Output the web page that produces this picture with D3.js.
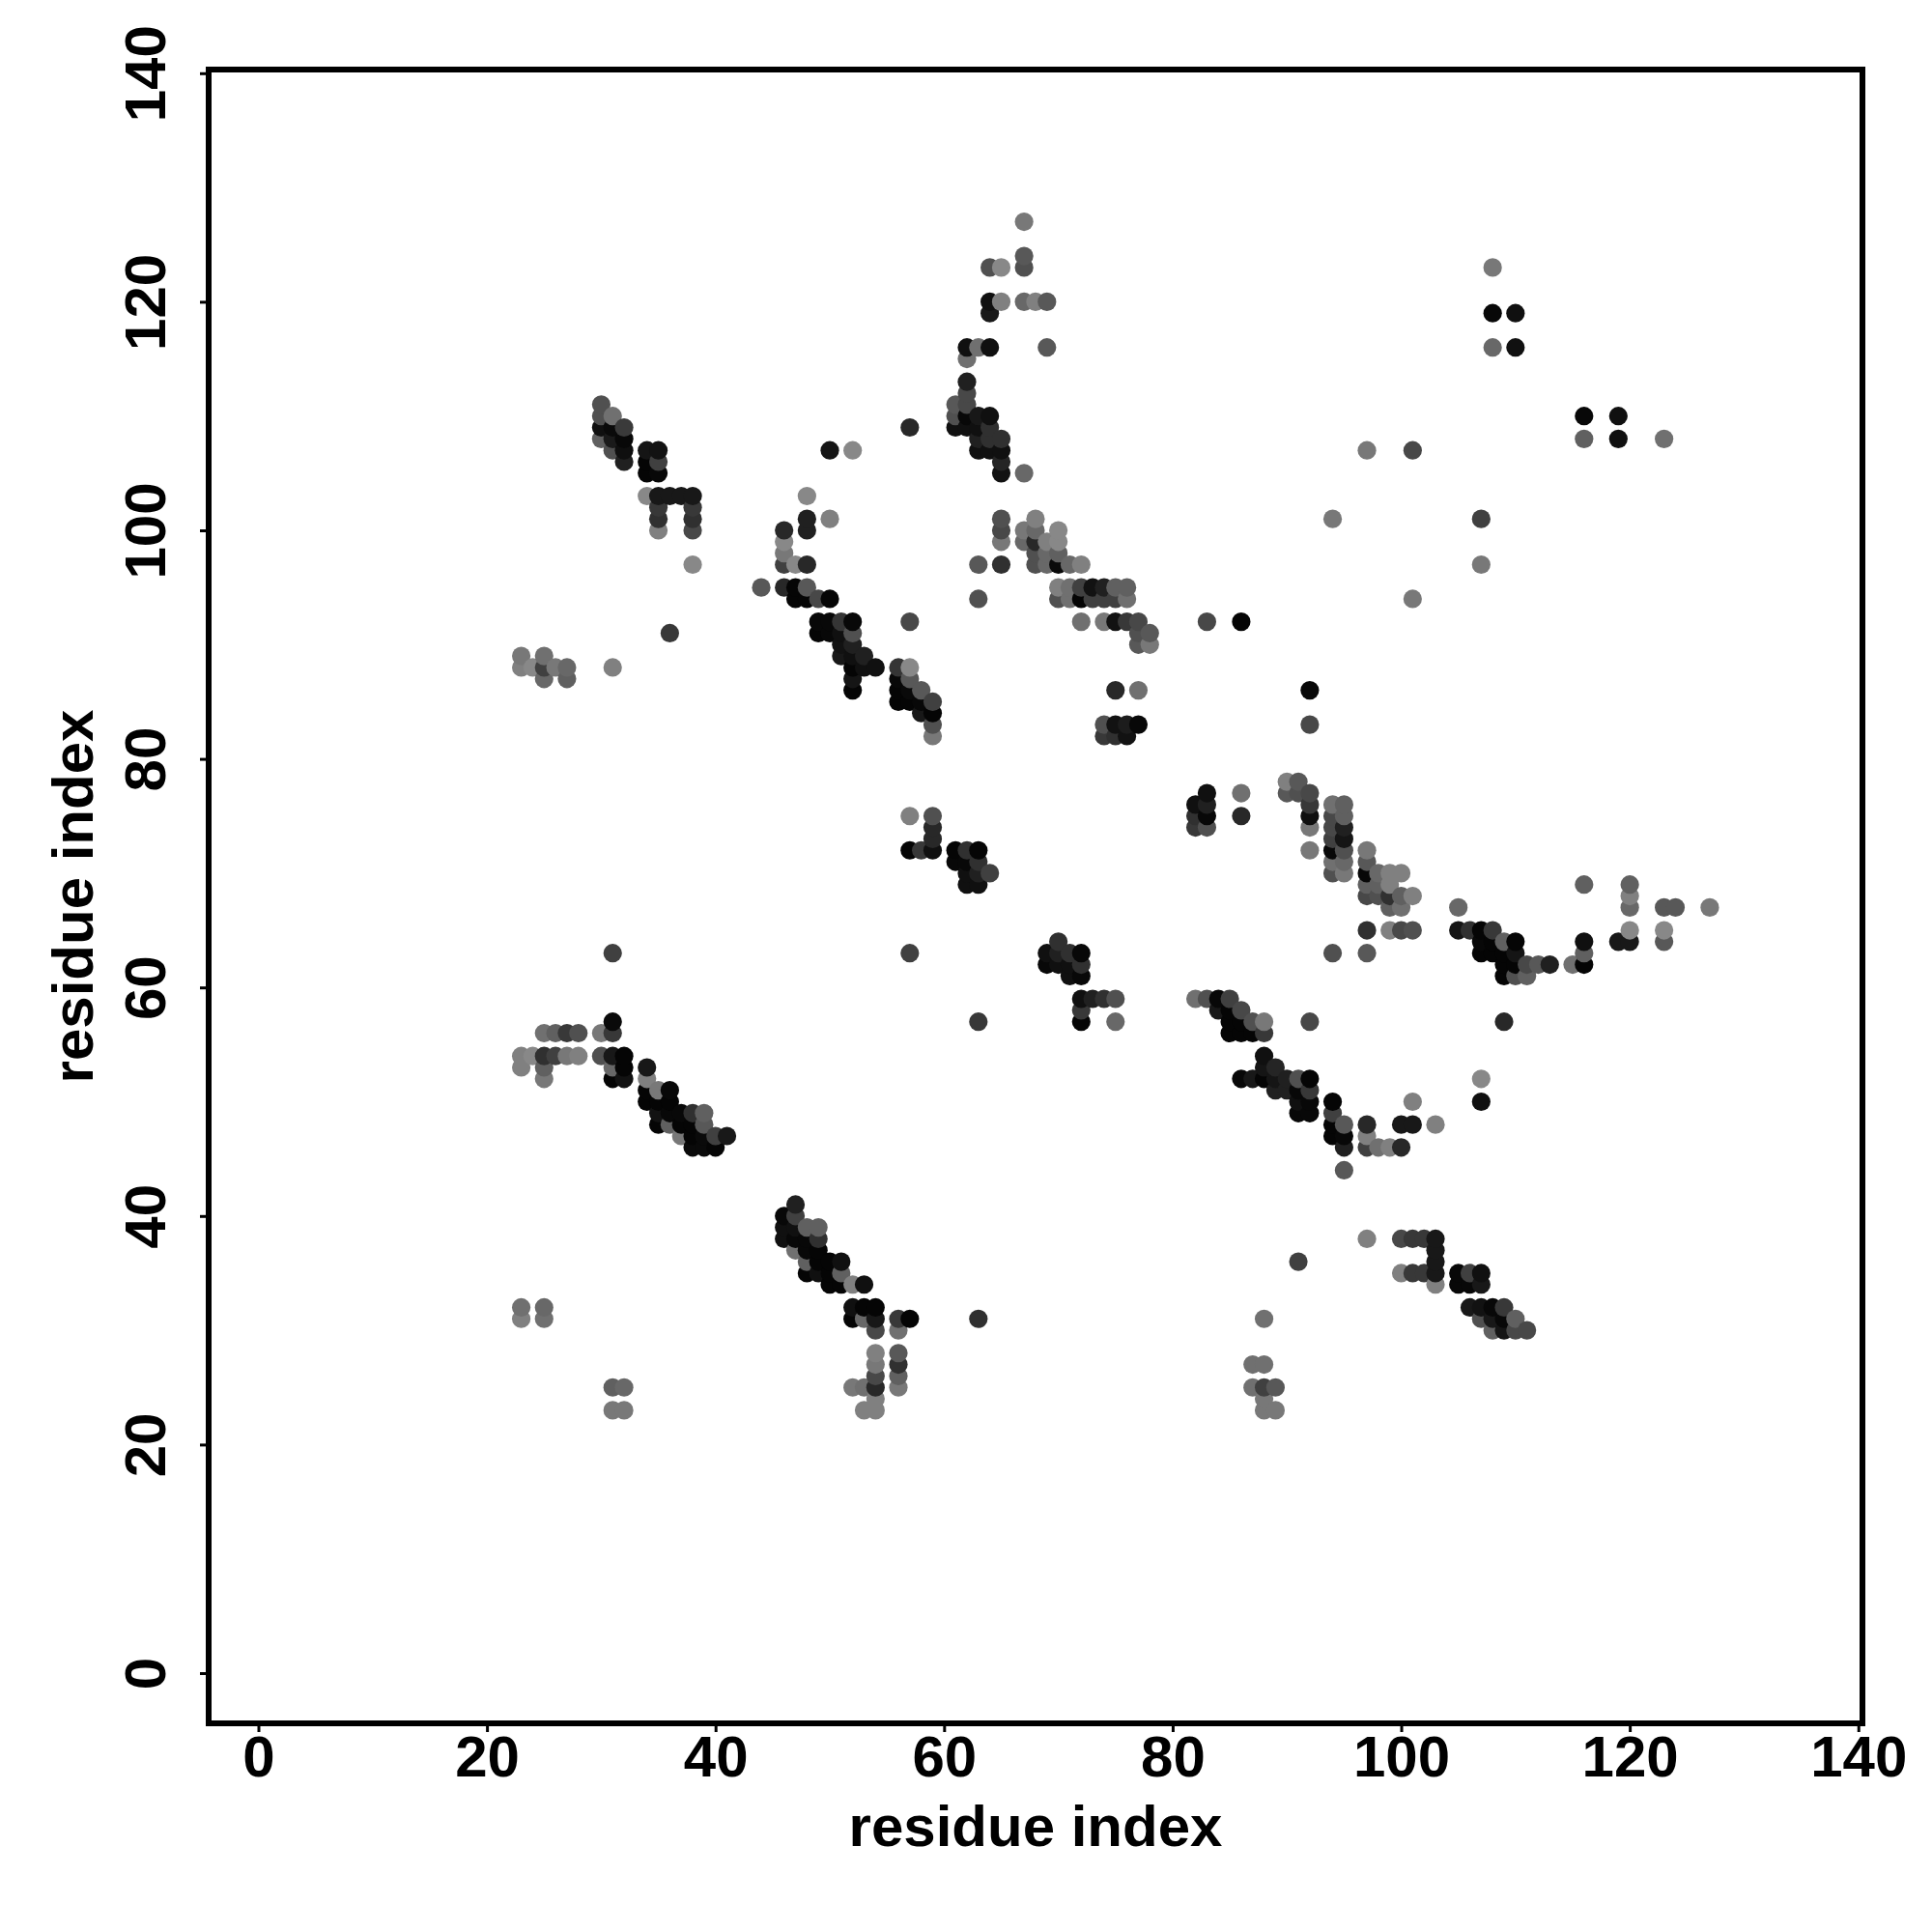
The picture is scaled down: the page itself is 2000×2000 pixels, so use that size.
<!DOCTYPE html>
<html>
<head>
<meta charset="utf-8">
<script src="https://cdnjs.cloudflare.com/ajax/libs/d3/7.8.5/d3.min.js"></script>
<style>
html,body{margin:0;padding:0;background:#fff}
svg{display:block}
text{font-family:"Liberation Sans",Arial,sans-serif;font-weight:bold;fill:#000}
</style>
</head>
<body>
<svg id="chart" width="2000" height="2000"></svg>
<script>
// Each entry: [residue i, residue j, grey level of the contact]
const xTicks = [0,20,40,60,80,100,120,140];
const yTicks = [0,20,40,60,80,100,120,140];
const xTitle = "residue index";
const yTitle = "residue index";

const helixA = [[30,111,0x50],[30,110,0x50],[31,110,0x70],[32,109,0x3a],[30,109,0x10],[31,109,0x0a],[30,108,0x60],[31,108,0x1a],[32,108,0x08],[31,107,0x50],[32,107,0x0f],[32,106,0x20],[34,107,0x15],[35,107,0x12],[34,106,0x05],[35,106,0x40],[34,105,0x05],[35,105,0x08],[34,103,0x88],[35,103,0x18],[36,103,0x18],[37,103,0x18],[38,103,0x18],[35,102,0x38],[35,101,0x30],[35,100,0x80],[38,102,0x38],[38,101,0x30],[38,100,0x48],[38,97,0x88],[36,91,0x38]];
const helixB = [[50,107,0x15],[52,107,0x88],[57,109,0x28],[48,103,0x88],[50,101,0x80],[48,101,0x20],[48,100,0x20],[46,100,0x28],[46,99,0x88],[46,98,0x78],[46,97,0x40],[47,97,0x88],[48,97,0x28],[44,95,0x58],[46,95,0x28],[47,95,0x05],[48,95,0x58],[47,94,0x05],[48,94,0x05],[49,94,0x48],[50,94,0x05],[49,92,0x08],[50,92,0x08],[51,92,0x35],[52,92,0x08],[49,91,0x05],[50,91,0x08],[51,91,0x10],[52,91,0x50],[51,90,0x12],[52,90,0x20],[51,89,0x18],[52,89,0x10],[53,89,0x20],[52,88,0x05],[53,88,0x10],[54,88,0x10],[52,87,0x15],[52,86,0x05]];
const leftC = [[23,89,0x78],[23,88,0x80],[24,88,0x88],[25,89,0x70],[25,88,0x40],[25,87,0x68],[26,88,0x78],[27,88,0x68],[27,87,0x60],[31,88,0x80]];
const strandD = [[56,88,0x35],[57,88,0x88],[56,87,0x08],[57,87,0x58],[56,86,0x05],[57,86,0x0a],[58,86,0x58],[56,85,0x05],[57,85,0x05],[58,85,0x08],[59,85,0x40],[58,84,0x18],[59,84,0x05],[59,83,0x50],[59,82,0x78],[57,92,0x48]];
const blockE = [[57,75,0x80],[59,75,0x50],[59,74,0x28],[59,73,0x28],[57,72,0x05],[58,72,0x38],[59,72,0x10],[61,72,0x05],[62,72,0x30],[63,72,0x05],[61,71,0x08],[62,71,0x08],[63,71,0x30],[62,70,0x10],[63,70,0x20],[64,70,0x40],[62,69,0x10],[63,69,0x10]];
const upperF = [[67,127,0x78],[67,124,0x58],[67,123,0x50],[65,123,0x88],[64,123,0x50],[67,120,0x68],[68,120,0x80],[69,120,0x58],[65,120,0x80],[64,120,0x10],[64,119,0x18],[69,116,0x58],[62,116,0x10],[63,116,0x70],[64,116,0x10],[62,115,0x70],[62,113,0x20],[62,112,0x48],[61,111,0x58],[62,111,0x48],[61,110,0x50],[62,110,0x08],[61,109,0x10],[62,109,0x10],[63,110,0x18],[64,110,0x10],[63,109,0x10],[64,109,0x30],[63,108,0x20],[64,108,0x30],[63,107,0x10],[64,107,0x10],[65,108,0x30],[65,107,0x10],[65,106,0x25],[65,105,0x12],[67,105,0x68]];
const sheetG = [[65,101,0x50],[65,100,0x48],[65,99,0x78],[63,97,0x58],[65,97,0x30],[63,94,0x50],[67,100,0x78],[67,99,0x68],[68,101,0x80],[68,100,0x68],[68,99,0x28],[69,99,0x80],[70,100,0x88],[70,99,0x88],[68,98,0x50],[69,98,0x68],[70,98,0x60],[68,97,0x50],[69,97,0x68],[70,97,0x0a],[71,97,0x68],[72,97,0x80],[70,95,0x80],[71,95,0x70],[72,95,0x40],[73,95,0x12],[74,95,0x20],[75,95,0x60],[76,95,0x60],[70,94,0x50],[71,94,0x70],[72,94,0x05],[73,94,0x40],[74,94,0x40],[75,94,0x40],[76,94,0x70],[72,92,0x70],[74,92,0x78],[75,92,0x12],[76,92,0x38],[77,92,0x48],[77,91,0x50],[78,91,0x58],[77,90,0x58],[78,90,0x78],[83,92,0x48],[86,92,0x05]];
const blockH = [[75,86,0x28],[77,86,0x70],[74,83,0x50],[75,83,0x12],[76,83,0x1c],[77,83,0x08],[74,82,0x38],[75,82,0x30],[76,82,0x12],[83,77,0x10],[82,76,0x10],[83,76,0x20],[82,75,0x30],[83,75,0x08],[82,74,0x38],[83,74,0x50],[86,77,0x70],[86,75,0x28]];
const strandI = [[90,78,0x80],[91,78,0x58],[90,77,0x58],[91,77,0x50],[92,77,0x48],[92,76,0x38],[92,75,0x10],[92,74,0x78],[92,72,0x78],[94,76,0x70],[95,76,0x60],[94,75,0x48],[95,75,0x60],[94,74,0x48],[95,74,0x20],[94,73,0x40],[95,73,0x15],[94,72,0x08],[95,72,0x50],[94,71,0x70],[95,71,0x68],[94,70,0x50],[95,70,0x78],[97,72,0x78],[97,71,0x58],[97,70,0x08],[98,70,0x68],[99,70,0x80],[100,70,0x80],[97,69,0x60],[98,69,0x60],[99,69,0x80],[97,68,0x48],[98,68,0x50],[99,68,0x30],[100,68,0x60],[101,68,0x80],[99,67,0x60],[100,67,0x70],[97,65,0x30],[99,65,0x80],[100,65,0x48],[101,65,0x50],[94,63,0x50],[97,63,0x58],[92,86,0x08],[92,83,0x48]];
const strandJ = [[105,67,0x68],[116,69,0x60],[120,69,0x60],[120,68,0x80],[120,67,0x68],[123,67,0x58],[124,67,0x58],[127,67,0x78],[120,65,0x88],[123,65,0x88],[123,64,0x58],[119,64,0x18],[120,64,0x18],[116,64,0x10],[116,63,0x60],[116,62,0x05],[115,62,0x70],[113,62,0x20],[112,62,0x58],[111,62,0x48],[110,62,0x05],[109,61,0x05],[110,61,0x50],[111,61,0x60],[109,62,0x05],[110,64,0x05],[110,63,0x15],[109,64,0x60],[109,63,0x05],[108,65,0x38],[107,65,0x05],[106,65,0x30],[105,65,0x15],[107,64,0x08],[108,64,0x05],[107,63,0x05],[108,63,0x05],[109,57,0x28]];
const strandK = [[82,59,0x70],[83,59,0x50],[84,59,0x08],[85,59,0x40],[84,58,0x18],[85,58,0x05],[86,58,0x48],[85,57,0x05],[86,57,0x05],[87,57,0x50],[88,57,0x78],[85,56,0x05],[86,56,0x05],[87,56,0x05],[88,56,0x38],[92,57,0x48]];
const helixL = [[25,56,0x70],[26,56,0x60],[27,56,0x38],[28,56,0x50],[30,56,0x78],[31,56,0x38],[31,57,0x0a],[23,54,0x80],[24,54,0x88],[25,54,0x30],[26,54,0x40],[27,54,0x78],[28,54,0x80],[23,53,0x80],[25,53,0x60],[25,52,0x78],[30,54,0x50],[31,54,0x18],[32,54,0x05],[31,53,0x68],[32,53,0x05],[31,52,0x05],[32,52,0x12],[34,53,0x18],[34,52,0x80],[34,51,0x05],[35,51,0x78],[36,51,0x08],[34,50,0x05],[35,50,0x05],[36,50,0x05],[35,49,0x12],[36,49,0x08],[37,49,0x08],[38,49,0x30],[39,49,0x60],[35,48,0x05],[36,48,0x60],[37,48,0x05],[38,48,0x05],[39,48,0x58],[37,47,0x78],[38,47,0x05],[39,47,0x0a],[40,47,0x40],[41,47,0x18],[38,46,0x0a],[39,46,0x0a],[40,46,0x05]];
const helixM = [[47,41,0x20],[46,40,0x08],[47,40,0x40],[46,39,0x10],[47,39,0x10],[48,39,0x60],[49,39,0x60],[46,38,0x10],[47,38,0x08],[48,38,0x08],[49,38,0x30],[47,37,0x70],[48,37,0x08],[49,37,0x05],[48,36,0x60],[49,36,0x05],[50,36,0x05],[51,36,0x10],[48,35,0x05],[49,35,0x10],[50,35,0x05],[51,35,0x60],[50,34,0x05],[51,34,0x05],[52,34,0x80],[53,34,0x10],[52,32,0x10],[53,32,0x05],[54,32,0x05],[52,31,0x05],[53,31,0x68],[54,31,0x18],[54,30,0x48],[56,31,0x38],[57,31,0x05],[56,30,0x70],[54,28,0x80],[54,27,0x78],[54,26,0x48],[54,25,0x28],[54,24,0x80],[54,23,0x80],[53,23,0x80],[52,25,0x78],[53,25,0x70],[56,28,0x58],[56,27,0x30],[56,26,0x60],[56,25,0x78],[63,31,0x30]];
const lowerN = [[23,32,0x70],[23,31,0x80],[25,32,0x68],[25,31,0x70],[31,25,0x60],[32,25,0x68],[31,23,0x78],[32,23,0x78],[31,63,0x40],[57,63,0x40],[63,57,0x38],[88,31,0x70],[87,27,0x70],[88,27,0x70],[87,25,0x70],[88,25,0x40],[89,25,0x58],[88,24,0x78],[88,23,0x78],[89,23,0x78],[91,36,0x40]];
const blockO = [[70,64,0x30],[69,63,0x10],[70,63,0x20],[71,63,0x30],[72,63,0x08],[69,62,0x08],[70,62,0x10],[71,62,0x10],[72,62,0x30],[71,61,0x10],[72,61,0x08],[72,59,0x10],[73,59,0x20],[74,59,0x30],[75,59,0x50],[72,58,0x38],[72,57,0x05],[75,57,0x68]];
const helixP = [[88,54,0x10],[88,53,0x15],[89,53,0x25],[86,52,0x08],[87,52,0x18],[88,52,0x05],[89,52,0x15],[90,52,0x20],[91,52,0x50],[92,52,0x05],[89,51,0x20],[90,51,0x20],[91,51,0x08],[92,51,0x38],[91,50,0x10],[92,50,0x08],[91,49,0x08],[92,49,0x08],[94,50,0x05],[94,49,0x40],[94,48,0x05],[95,48,0x58],[94,47,0x05],[95,47,0x08],[95,46,0x20],[95,44,0x58],[97,48,0x28],[97,47,0x80],[97,46,0x40],[98,46,0x70],[99,46,0x80],[100,46,0x28],[100,48,0x18],[101,48,0x18],[101,50,0x80],[103,48,0x80],[107,52,0x88],[107,50,0x10]];
const helixQ = [[97,38,0x80],[100,38,0x48],[101,38,0x38],[102,38,0x38],[103,38,0x18],[103,37,0x18],[103,36,0x18],[100,35,0x80],[101,35,0x38],[102,35,0x38],[103,35,0x18],[103,34,0x80],[105,35,0x08],[106,35,0x40],[107,35,0x10],[105,34,0x08],[106,34,0x08],[107,34,0x18],[106,32,0x18],[107,32,0x12],[108,32,0x08],[109,32,0x38],[107,31,0x50],[108,31,0x18],[109,31,0x08],[110,31,0x60],[108,30,0x60],[109,30,0x15],[110,30,0x48],[111,30,0x48]];
const farR = [[107,101,0x40],[107,97,0x78],[101,107,0x48],[97,107,0x78],[94,101,0x78],[101,94,0x78],[108,123,0x78],[108,119,0x08],[110,119,0x10],[108,116,0x68],[110,116,0x10],[116,110,0x08],[119,110,0x10],[116,108,0x60],[119,108,0x10],[123,108,0x70]];

const contacts = [helixA,helixB,leftC,strandD,blockE,upperF,sheetG,blockH,strandI,strandJ,strandK,helixL,helixM,lowerN,blockO,helixP,helixQ,farR]
  .flat()
  .map(([i,j,grey]) => ({i,j,grey}))
  .sort((a,b) => d3.ascending(a.i,b.i) || d3.ascending(a.j,b.j));

const left = 216, right = 1928, top_ = 72, bottom = 1784;
const x = d3.scaleLinear().domain([-4.353,140.36]).range([left,right]);
const y = d3.scaleLinear().domain([-4.396,140.32]).range([bottom,top_]);
const shade = d3.scaleLinear().domain([0,255]).range(["#000000","#ffffff"]);

const svg = d3.select("#chart");

svg.append("g").selectAll("circle").data(contacts).join("circle")
  .attr("cx", d => x(d.i))
  .attr("cy", d => y(d.j))
  .attr("r", 9.6)
  .attr("fill", d => shade(d.grey));

const xAxis = svg.append("g").attr("transform",`translate(0,${bottom})`)
  .call(d3.axisBottom(x).tickValues(xTicks).tickSize(9).tickFormat(d3.format("d")));
xAxis.select(".domain").remove();
xAxis.selectAll("line").attr("stroke","#000").attr("stroke-width",3);
xAxis.selectAll("text").attr("y",55).attr("dy",0).attr("font-size",60).attr("text-anchor","middle");

const yAxis = svg.append("g").attr("transform",`translate(${left},0)`)
  .call(d3.axisLeft(y).tickValues(yTicks).tickSize(9).tickFormat(d3.format("d")));
yAxis.select(".domain").remove();
yAxis.selectAll("line").attr("stroke","#000").attr("stroke-width",3);
yAxis.selectAll("text").attr("x",null).attr("dy",0).attr("font-size",60).attr("text-anchor","middle")
  .attr("transform","translate(-45,0) rotate(-90)");

svg.append("rect").attr("x",left).attr("y",top_).attr("width",right-left).attr("height",bottom-top_)
  .attr("fill","none").attr("stroke","#000").attr("stroke-width",6);

svg.append("text").attr("x",1072).attr("y",1911).attr("text-anchor","middle").attr("font-size",60).text(xTitle);
svg.append("text").attr("transform","translate(96,928) rotate(-90)").attr("text-anchor","middle").attr("font-size",60).text(yTitle);
</script>
</body>
</html>
